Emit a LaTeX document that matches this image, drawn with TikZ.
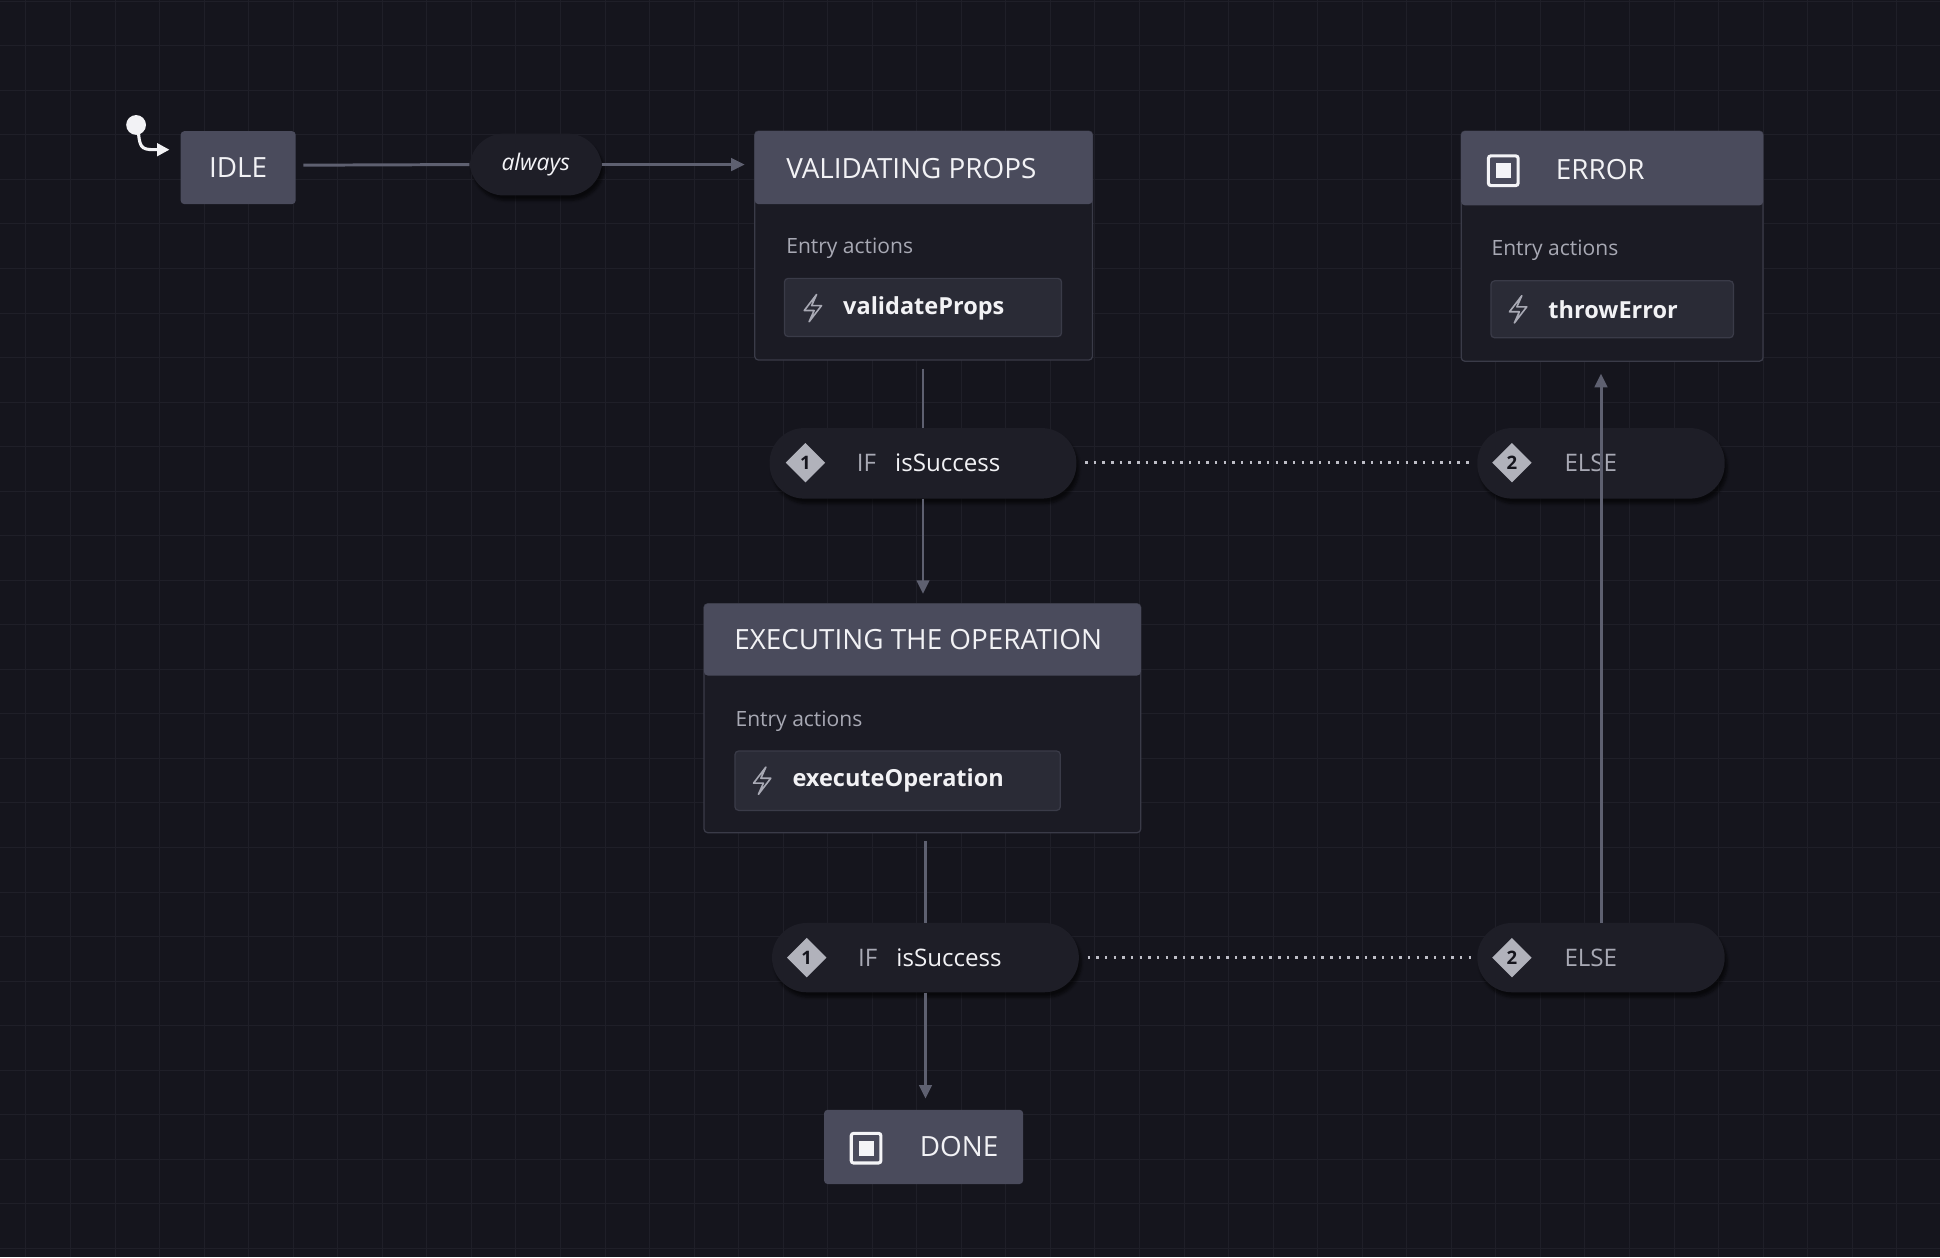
\documentclass[tikz,border=0pt]{standalone}
\usepackage{fontspec}
\setmainfont{Open Sans}
\usetikzlibrary{arrows.meta,shapes.geometric,shadows.blur,calc}
\definecolor{bg}{HTML}{15151D}
\definecolor{gridc}{HTML}{1F1F28}
\definecolor{hdr}{HTML}{4A4B5C}
\definecolor{body}{HTML}{1B1B24}
\definecolor{bord}{HTML}{3A3B48}
\definecolor{act}{HTML}{2A2B36}
\definecolor{edge}{HTML}{5E6070}
\definecolor{txt}{HTML}{F2F2F5}
\definecolor{sub}{HTML}{A8A9B4}
\definecolor{pill}{HTML}{1E1E27}
\tikzset{
 x=1pt,y=-1pt,
 hdrbox/.style={fill=hdr,draw=none,rounded corners=3pt},
 bodybox/.style={fill=body,draw=bord,line width=1pt,rounded corners=3pt},
 actbox/.style={fill=act,draw=bord,line width=1pt,rounded corners=3pt},
 pillbox/.style={fill=pill,draw=none,rounded corners=28pt,blur shadow={shadow blur steps=6,shadow xshift=2pt,shadow yshift=-4pt,shadow opacity=60}},
 ttl/.style={text=txt,font=\fontsize{22.5}{26}\selectfont,anchor=west},
 entry/.style={text=sub,font=\fontsize{17}{20}\selectfont,anchor=west},
 actt/.style={text=txt,font=\bfseries\fontsize{19}{22}\selectfont,anchor=west},
 pt/.style={text=txt,font=\fontsize{19.5}{22}\selectfont,anchor=west},
 ptg/.style={text=sub,font=\fontsize{19.5}{22}\selectfont,anchor=west},
 conn/.style={draw=edge,line width=2.4pt},
 arr/.style={conn,-{Triangle[length=11pt,width=10pt]}},
 dotl/.style={draw=sub!75,line width=2pt,dash pattern=on 2pt off 5pt},
 dia/.style={diamond,fill=sub!90,minimum size=32pt,inner sep=0pt,text=bg,font=\bfseries\fontsize{15}{16}\selectfont},
}
\newcommand{\bolt}[1]{\draw[sub,line width=1.3pt,line join=round] ($(#1)+(3,-11)$) -- ($(#1)+(-7,2)$) -- ($(#1)+(1,2)$) -- ($(#1)+(-3,11)$) -- ($(#1)+(7,-2)$) -- ($(#1)+(-1,-2)$) -- cycle;}
\newcommand{\stopicon}[1]{\draw[txt!85,line width=2.5pt,rounded corners=2pt] ($(#1)+(-12,-12)$) rectangle ($(#1)+(12,12)$); \fill[txt!85] ($(#1)+(-6,-6)$) rectangle ($(#1)+(6,6)$);}
\begin{document}
\begin{tikzpicture}
\fill[bg] (0,0) rectangle (1568,1016);
\useasboundingbox (0,0) rectangle (1568,1016);
\foreach \i in {0,...,44} {\draw[gridc,line width=0.8pt] (21+36*\i,0) -- (21+36*\i,1016);}
\foreach \i in {0,...,28} {\draw[gridc,line width=0.8pt] (0,1+36*\i) -- (1568,1+36*\i);}

% initial
\fill[txt] (110,101) circle (8);
\coordinate (ini) at (112,108);
% IDLE
\node[hdrbox,minimum width=93pt,minimum height=59pt,text=txt,font=\fontsize{22.5}{26}\selectfont] (idle) at (192.5,135.5) {IDLE};
\coordinate (inie) at (137,121);
\draw[draw=txt,line width=2.5pt,-{Triangle[length=10pt,width=10pt]}] (ini) .. controls (113,121) and (116,121) .. (inie);

% always
\node[pillbox,minimum width=107pt,minimum height=50pt,font=\itshape\fontsize{18.5}{22}\selectfont,text=txt!90] (alw) at (433,133) {always};
\draw[conn] ($(idle.east)+(6,-2)$) -- (alw.west);
\coordinate (vpin) at (602,133);
\draw[arr] (alw.east) -- (vpin);

% VALIDATING
\draw[bodybox] (610,106) rectangle (883,291);
\fill[hdr,rounded corners=3pt] (610,106) rectangle (883,165);
\node[ttl] (vt) at (632,136) {VALIDATING PROPS};
\node[entry] (ve) at (632,201) {Entry actions};
\draw[actbox] (634,225) rectangle (858,272);
\bolt{657,249}
\node[actt] (va) at (678,249) {validateProps};
\coordinate (vbot) at (746,298);

% ERROR
\draw[bodybox] (1181,106) rectangle (1425,292);
\fill[hdr,rounded corners=3pt] (1181,106) rectangle (1425,166);
\stopicon{1215,138}
\node[ttl] (et) at (1254,137) {ERROR};
\node[entry] (ee) at (1202,202) {Entry actions};
\draw[actbox] (1205,227) rectangle (1401,273);
\bolt{1227,250}
\node[actt] (ea) at (1248,250) {throwError};
\coordinate (ebot) at (1294,302);

% pills row 1
\node[pillbox,minimum width=248pt,minimum height=57pt] (p1) at (746,374.5) {};
\node[dia] (d1) at (651,374) {1};
\node[ptg] at (689,374) {IF};
\node[pt] at (720,374) {isSuccess};
\node[pillbox,minimum width=200pt,minimum height=57pt] (e1) at (1294,374.5) {};
\node[dia] (d2) at (1222,374) {2};
\node[ptg] at (1261,374) {ELSE};
\draw[conn] (vbot) -- (p1.north);
\draw[dotl] (877,374) -- (1190,374);

% EXECUTING
\draw[bodybox] (569,488) rectangle (922,673);
\fill[hdr,rounded corners=3pt] (569,488) rectangle (922,546);
\node[ttl] (xt) at (590,517) {EXECUTING THE OPERATION};
\node[entry] (xe) at (591,583) {Entry actions};
\draw[actbox] (594,607) rectangle (857,655);
\bolt{616,631}
\node[actt] (xa) at (637,631) {executeOperation};
\coordinate (xtop) at (746,480);
\coordinate (xbot) at (748,680);
\draw[arr] (p1.south) -- (xtop);

% pills row 2
\node[pillbox,minimum width=248pt,minimum height=56pt] (p2) at (748,774) {};
\node[dia] (d3) at (652,774) {1};
\node[ptg] at (690,774) {IF};
\node[pt] at (721,774) {isSuccess};
\node[pillbox,minimum width=200pt,minimum height=56pt] (e2) at (1294,774) {};
\node[dia] (d4) at (1222,774) {2};
\node[ptg] at (1261,774) {ELSE};
\draw[conn] (xbot) -- (p2.north);
\draw[dotl] (879,774) -- (1190,774);
\draw[arr] (e2.north) -- (ebot);

% DONE
\node[hdrbox,minimum width=161pt,minimum height=60pt] (done) at (746.5,927) {};
\stopicon{700,928}
\node[ttl] at (740,927) {DONE};
\coordinate (dtop) at (748,888);
\draw[arr] (p2.south) -- (dtop);
\end{tikzpicture}
\end{document}
